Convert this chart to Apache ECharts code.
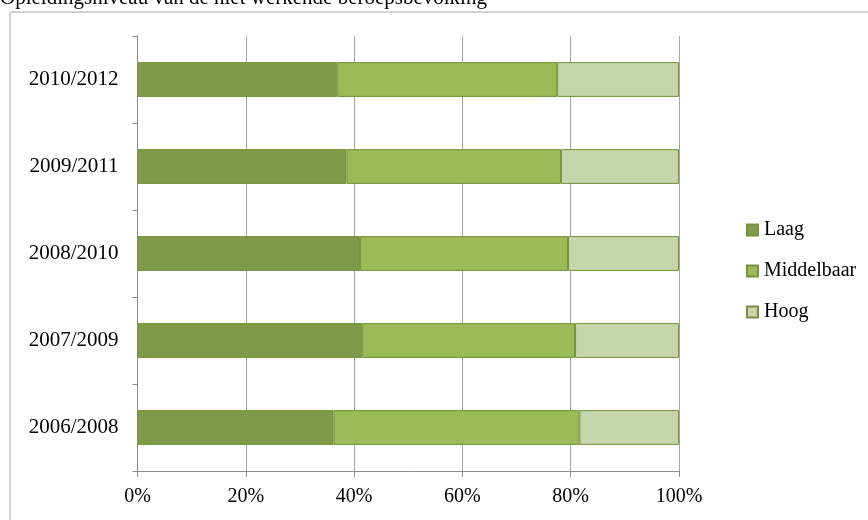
<!DOCTYPE html>
<html>
<head>
<meta charset="utf-8">
<script src="https://cdn.jsdelivr.net/npm/echarts@6/dist/echarts.min.js"></script>
<style>
html,body{margin:0;padding:0;background:#fff;}
#chart{width:868px;height:520px;}
</style>
</head>
<body>
<div id="chart"></div>
<script>
var titleText = 'Opleidingsniveau van de niet werkende beroepsbevolking';
var categories = ['2006/2008', '2007/2009', '2008/2010', '2009/2011', '2010/2012'];
var laag = [36.2, 41.5, 41.1, 38.6, 36.9];
var middelbaar = [45.4, 39.3, 38.4, 39.6, 40.6];
var hoog = [18.4, 19.2, 20.5, 21.8, 22.5];
var seriesNames = ['Laag', 'Middelbaar', 'Hoog'];
var xTicks = [0, 20, 40, 60, 80, 100];

var font = 'Liberation Serif';
var colors = ['#7f9a48', '#9bbb59', '#c5d6ab'];
var border = '#76923c';

var chart = echarts.init(document.getElementById('chart'), null, {renderer: 'canvas'});

function mkSeries(name, data, color) {
  return {
    name: name,
    type: 'bar',
    stack: 'total',
    data: data,
    barCategoryGap: '60%',
    itemStyle: {color: color, borderColor: border, borderWidth: 1},
    emphasis: {disabled: true},
    animation: false
  };
}

var option = {
  animation: false,
  graphic: [
    {type: 'rect', shape: {x: 10, y: 12, width: 1000, height: 700, r: 2},
     style: {fill: 'none', stroke: '#c4c4c4', lineWidth: 1.5}, z: -10},
    {type: 'text', left: 0, top: -12,
     style: {text: titleText, fontFamily: font, fontSize: 21, fill: '#000'}}
  ],
  grid: {left: 137.5, right: 868 - 679, top: 36, bottom: 520 - 471, containLabel: false},
  legend: {
    orient: 'vertical',
    left: 741,
    top: 215,
    itemWidth: 11,
    itemHeight: 11,
    itemGap: 21,
    icon: 'rect',
    selectedMode: false,
    textStyle: {fontFamily: font, fontSize: 20, color: '#000', padding: [0, 0, 0, 1]},
    data: seriesNames
  },
  xAxis: {
    type: 'value',
    min: xTicks[0],
    max: xTicks[xTicks.length - 1],
    interval: 20,
    axisLine: {show: true, lineStyle: {color: '#8c8c8c', width: 1}},
    axisTick: {show: true, length: 6, lineStyle: {color: '#8c8c8c'}},
    splitLine: {show: true, lineStyle: {color: '#a6a6a6', width: 1}},
    axisLabel: {formatter: '{value}%', fontFamily: font, fontSize: 20, color: '#000', margin: 16}
  },
  yAxis: {
    type: 'category',
    data: categories,
    axisLine: {show: true, lineStyle: {color: '#8c8c8c', width: 1}},
    axisTick: {show: true, length: 5, alignWithLabel: false, lineStyle: {color: '#8c8c8c'}},
    axisLabel: {fontFamily: font, fontSize: 21, color: '#000', margin: 19}
  },
  series: [
    mkSeries(seriesNames[0], laag, colors[0]),
    mkSeries(seriesNames[1], middelbaar, colors[1]),
    mkSeries(seriesNames[2], hoog, colors[2])
  ]
};
chart.setOption(option);
</script>
</body>
</html>
